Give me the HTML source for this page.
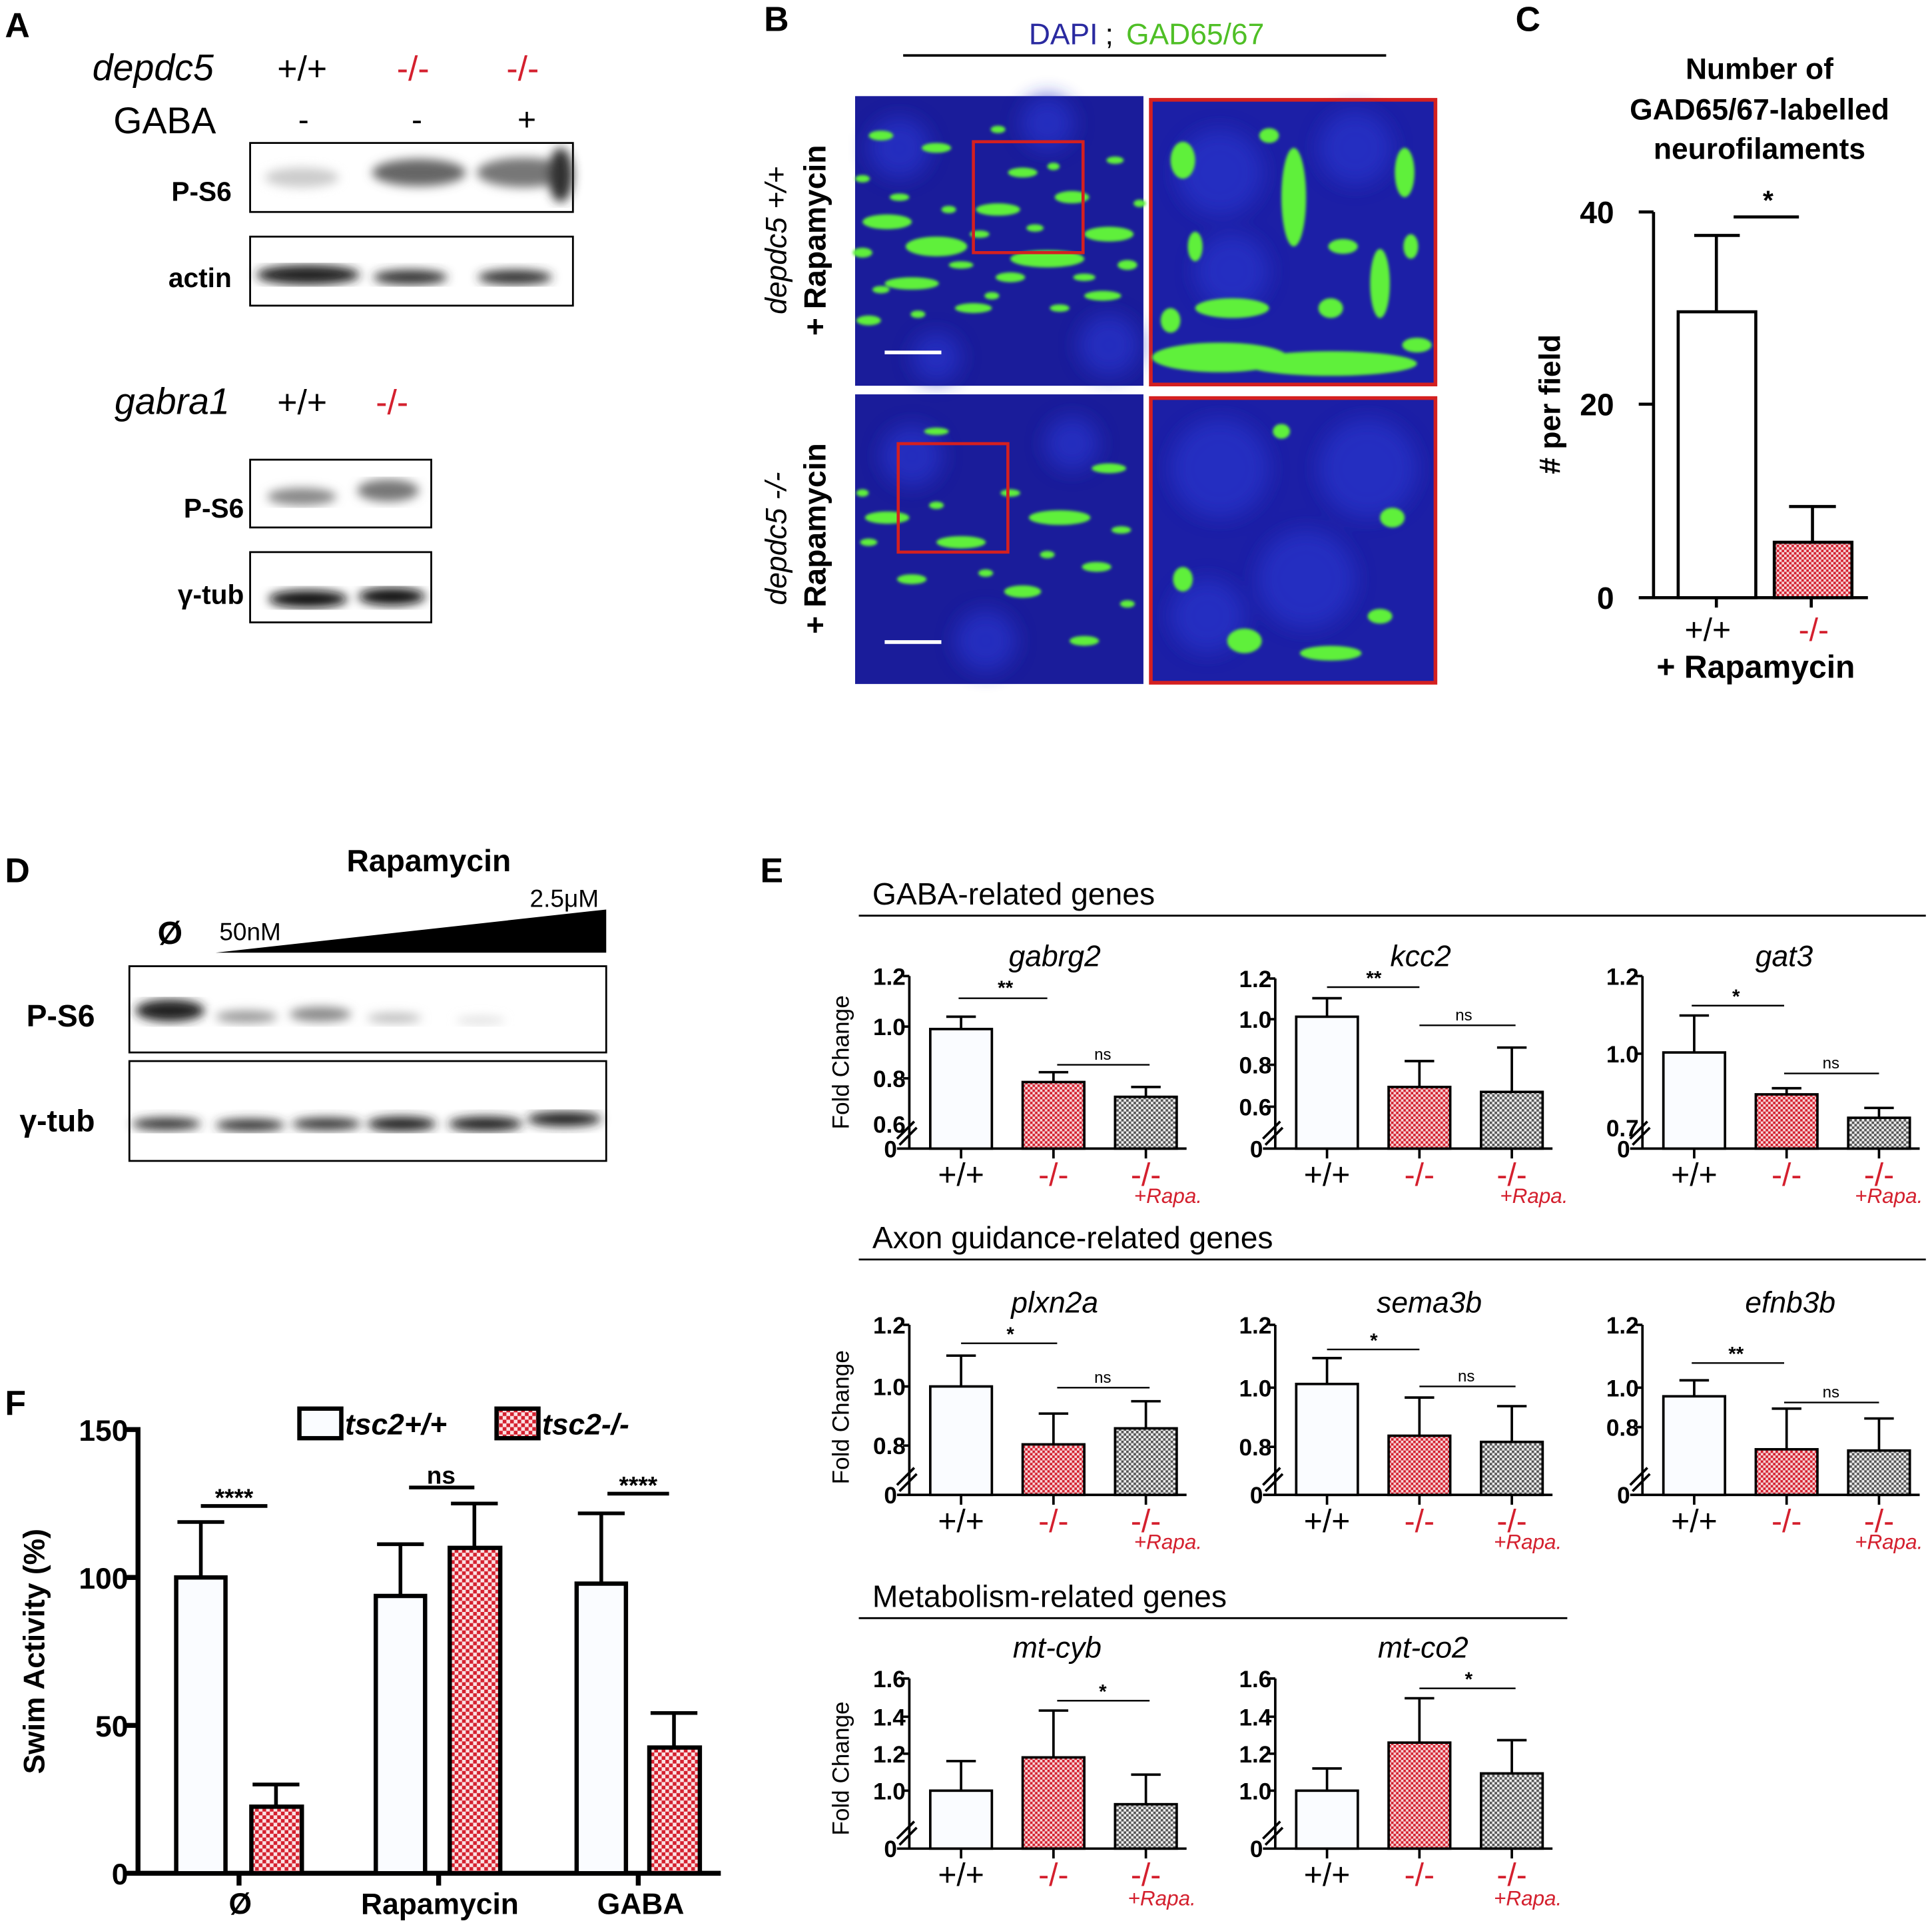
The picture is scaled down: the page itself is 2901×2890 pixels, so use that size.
<!DOCTYPE html>
<html><head><meta charset="utf-8"><style>
html,body{margin:0;padding:0;background:#fff}
svg{display:block}
text{font-family:"Liberation Sans",sans-serif}
</style></head><body>
<svg width="2901" height="2890" viewBox="0 0 1568 1562" preserveAspectRatio="none" xmlns="http://www.w3.org/2000/svg">
<defs>
<pattern id="red" width="4" height="4" patternUnits="userSpaceOnUse"><rect width="4" height="4" fill="#f6d5d8"/><rect width="2" height="2" fill="#d4202e"/><rect x="2" y="2" width="2" height="2" fill="#d4202e"/></pattern>
<pattern id="gray" width="4" height="4" patternUnits="userSpaceOnUse"><rect width="4" height="4" fill="#eee"/><rect width="2" height="2" fill="#555"/><rect x="2" y="2" width="2" height="2" fill="#555"/></pattern>
<pattern id="redF" width="6" height="6" patternUnits="userSpaceOnUse"><rect width="6" height="6" fill="#fbe2e4"/><rect width="3" height="3" fill="#d4202e"/><rect x="3" y="3" width="3" height="3" fill="#d4202e"/></pattern>
<filter id="bl"><feGaussianBlur stdDeviation="4"/></filter>
<filter id="bl2"><feGaussianBlur stdDeviation="1.2"/></filter>
<filter id="bl3"><feGaussianBlur stdDeviation="8"/></filter>
</defs>
<rect width="1568" height="1562" fill="#fff"/>

<!-- Panel A -->
<text x="4" y="30" font-size="28" font-weight="bold">A</text>
<text x="75" y="65" font-size="30" font-style="italic">depdc5</text>
<text x="225" y="65" font-size="28">+/+</text>
<text x="322" y="65" font-size="28" fill="#d4202e">-/-</text>
<text x="411" y="65" font-size="28" fill="#d4202e">-/-</text>
<text x="92" y="108" font-size="30">GABA</text>
<text x="242" y="106" font-size="26">-</text>
<text x="334" y="106" font-size="26">-</text>
<text x="420" y="106" font-size="26">+</text>
<rect x="203" y="116" width="262" height="56" fill="#fff" stroke="#000" stroke-width="1.5"/>
<g filter="url(#bl)"><ellipse cx="245" cy="144" rx="30" ry="8" fill="#ccc"/><ellipse cx="340" cy="140" rx="38" ry="11" fill="#666"/><ellipse cx="425" cy="140" rx="38" ry="12" fill="#777"/><ellipse cx="455" cy="142" rx="10" ry="22" fill="#333"/></g>
<text x="188" y="163" font-size="22" font-weight="bold" text-anchor="end">P-S6</text>
<rect x="203" y="192" width="262" height="56" fill="#fff" stroke="#000" stroke-width="1.5"/>
<g filter="url(#bl)"><ellipse cx="250" cy="223" rx="42" ry="8" fill="#222"/><ellipse cx="333" cy="225" rx="30" ry="6" fill="#333"/><ellipse cx="418" cy="225" rx="30" ry="6" fill="#333"/></g>
<text x="188" y="233" font-size="22" font-weight="bold" text-anchor="end">actin</text>
<text x="93" y="336" font-size="30" font-style="italic">gabra1</text>
<text x="225" y="336" font-size="28">+/+</text>
<text x="305" y="336" font-size="28" fill="#d4202e">-/-</text>
<rect x="203" y="373" width="147" height="55" fill="#fff" stroke="#000" stroke-width="1.5"/>
<g filter="url(#bl)"><ellipse cx="245" cy="403" rx="28" ry="7" fill="#888"/><ellipse cx="315" cy="398" rx="25" ry="9" fill="#777"/></g>
<text x="198" y="420" font-size="22" font-weight="bold" text-anchor="end">P-S6</text>
<rect x="203" y="448" width="147" height="57" fill="#fff" stroke="#000" stroke-width="1.5"/>
<g filter="url(#bl)"><ellipse cx="250" cy="486" rx="32" ry="7" fill="#111"/><ellipse cx="318" cy="484" rx="27" ry="7" fill="#111"/></g>
<text x="198" y="490" font-size="22" font-weight="bold" text-anchor="end">γ-tub</text>

<!-- Panel B -->
<text x="620" y="25" font-size="28" font-weight="bold">B</text>
<text x="835" y="36" font-size="24" fill="#2a2aa0">DAPI</text>
<text x="897" y="36" font-size="24">;</text>
<text x="914" y="36" font-size="24" fill="#4fbf26">GAD65/67</text>
<line x1="733" y1="45" x2="1125" y2="45" stroke="#000" stroke-width="2"/>
<rect x="694" y="78" width="234" height="235" fill="#1a1c9a"/>
<rect x="694" y="320" width="234" height="235" fill="#1a1c9a"/>
<rect x="934" y="81" width="231" height="231" fill="#1c1fa6" stroke="#d42020" stroke-width="3"/>
<rect x="934" y="323" width="231" height="231" fill="#1c1fa6" stroke="#d42020" stroke-width="3"/>
<g fill="#2830c8" filter="url(#bl3)" opacity="0.8">
<circle cx="730" cy="120" r="25"/><circle cx="850" cy="100" r="22"/><circle cx="900" cy="280" r="25"/><circle cx="760" cy="290" r="20"/>
<circle cx="740" cy="370" r="25"/><circle cx="870" cy="360" r="22"/><circle cx="800" cy="520" r="25"/>
<circle cx="990" cy="140" r="35"/><circle cx="1100" cy="120" r="30"/><circle cx="1000" cy="220" r="30"/>
<circle cx="990" cy="380" r="40"/><circle cx="1110" cy="380" r="40"/><circle cx="1060" cy="470" r="40"/><circle cx="980" cy="500" r="30"/>
</g>
<g fill="#5ef03a" filter="url(#bl2)">
<ellipse cx="720" cy="180" rx="20" ry="6"/><ellipse cx="760" cy="200" rx="25" ry="8"/><ellipse cx="810" cy="170" rx="18" ry="5"/><ellipse cx="850" cy="210" rx="30" ry="7"/><ellipse cx="900" cy="190" rx="20" ry="6"/><ellipse cx="740" cy="230" rx="22" ry="5"/><ellipse cx="830" cy="140" rx="12" ry="4"/><ellipse cx="790" cy="250" rx="15" ry="4"/><ellipse cx="870" cy="160" rx="14" ry="5"/><ellipse cx="715" cy="110" rx="10" ry="4"/><ellipse cx="760" cy="120" rx="12" ry="4"/><ellipse cx="895" cy="240" rx="15" ry="4"/><ellipse cx="705" cy="260" rx="10" ry="4"/>
<ellipse cx="700" cy="205" rx="8" ry="4"/><ellipse cx="780" cy="215" rx="10" ry="3"/><ellipse cx="820" cy="225" rx="12" ry="4"/><ellipse cx="880" cy="225" rx="9" ry="3"/><ellipse cx="915" cy="215" rx="8" ry="4"/><ellipse cx="730" cy="160" rx="8" ry="3"/><ellipse cx="795" cy="190" rx="8" ry="3"/><ellipse cx="840" cy="185" rx="7" ry="3"/><ellipse cx="770" cy="170" rx="6" ry="3"/><ellipse cx="905" cy="130" rx="7" ry="3"/><ellipse cx="700" cy="145" rx="6" ry="3"/><ellipse cx="810" cy="105" rx="6" ry="3"/><ellipse cx="860" cy="250" rx="8" ry="3"/><ellipse cx="745" cy="255" rx="6" ry="3"/><ellipse cx="925" cy="165" rx="5" ry="3"/><ellipse cx="715" cy="235" rx="7" ry="3"/><ellipse cx="805" cy="240" rx="6" ry="3"/><ellipse cx="855" cy="135" rx="5" ry="3"/>
<ellipse cx="720" cy="420" rx="18" ry="5"/><ellipse cx="780" cy="440" rx="20" ry="5"/><ellipse cx="860" cy="420" rx="25" ry="6"/><ellipse cx="900" cy="380" rx="14" ry="4"/><ellipse cx="740" cy="470" rx="12" ry="4"/><ellipse cx="830" cy="480" rx="15" ry="5"/><ellipse cx="890" cy="460" rx="12" ry="4"/><ellipse cx="760" cy="350" rx="10" ry="3"/><ellipse cx="880" cy="520" rx="12" ry="4"/>
<ellipse cx="705" cy="440" rx="7" ry="3"/><ellipse cx="820" cy="400" rx="8" ry="3"/><ellipse cx="910" cy="430" rx="8" ry="3"/><ellipse cx="850" cy="450" rx="6" ry="3"/><ellipse cx="800" cy="465" rx="6" ry="3"/><ellipse cx="915" cy="490" rx="6" ry="3"/><ellipse cx="760" cy="410" rx="6" ry="3"/><ellipse cx="700" cy="400" rx="5" ry="3"/>
<ellipse cx="990" cy="290" rx="55" ry="12"/><ellipse cx="1080" cy="295" rx="70" ry="10"/><ellipse cx="1050" cy="160" rx="10" ry="40"/><ellipse cx="1120" cy="230" rx="8" ry="28"/><ellipse cx="960" cy="130" rx="10" ry="15"/><ellipse cx="1000" cy="250" rx="30" ry="8"/><ellipse cx="1140" cy="140" rx="8" ry="20"/><ellipse cx="1090" cy="200" rx="12" ry="6"/><ellipse cx="970" cy="200" rx="6" ry="12"/>
<ellipse cx="1150" cy="280" rx="12" ry="6"/><ellipse cx="1030" cy="110" rx="8" ry="6"/><ellipse cx="1080" cy="250" rx="10" ry="8"/><ellipse cx="950" cy="260" rx="8" ry="10"/><ellipse cx="1145" cy="200" rx="6" ry="10"/>
<ellipse cx="1010" cy="520" rx="14" ry="10"/><ellipse cx="1080" cy="530" rx="25" ry="6"/><ellipse cx="960" cy="470" rx="8" ry="10"/><ellipse cx="1130" cy="420" rx="10" ry="8"/><ellipse cx="1040" cy="350" rx="7" ry="6"/><ellipse cx="1120" cy="500" rx="10" ry="6"/>
</g>
<rect x="790" y="115" width="89" height="90" fill="none" stroke="#d42020" stroke-width="2.5"/>
<rect x="729" y="360" width="89" height="88" fill="none" stroke="#d42020" stroke-width="2.5"/>
<line x1="718" y1="286" x2="764" y2="286" stroke="#fff" stroke-width="3"/>
<line x1="718" y1="521" x2="764" y2="521" stroke="#fff" stroke-width="3"/>
<text transform="translate(638,195) rotate(-90)" font-size="24" font-style="italic" text-anchor="middle">depdc5 +/+</text>
<text transform="translate(670,195) rotate(-90)" font-size="25" font-weight="bold" text-anchor="middle">+ Rapamycin</text>
<text transform="translate(638,437) rotate(-90)" font-size="24" font-style="italic" text-anchor="middle">depdc5 -/-</text>
<text transform="translate(670,437) rotate(-90)" font-size="25" font-weight="bold" text-anchor="middle">+ Rapamycin</text>

<!-- Panel C -->
<text x="1230" y="25" font-size="28" font-weight="bold">C</text>
<g font-size="24" font-weight="bold" text-anchor="middle"><text x="1428" y="64">Number of</text><text x="1428" y="97">GAD65/67-labelled</text><text x="1428" y="129">neurofilaments</text></g>
<text transform="translate(1266,328) rotate(-90)" font-size="24" font-weight="bold" text-anchor="middle"># per field</text>
<g stroke="#000" stroke-width="2.5" fill="none">
<line x1="1342" y1="172" x2="1342" y2="486"/><line x1="1330" y1="172" x2="1342" y2="172"/><line x1="1330" y1="328" x2="1342" y2="328"/><line x1="1330" y1="485" x2="1342" y2="485"/>
<line x1="1342" y1="485" x2="1516" y2="485"/><line x1="1393" y1="485" x2="1393" y2="493"/><line x1="1470" y1="485" x2="1470" y2="493"/>
<line x1="1393" y1="253" x2="1393" y2="191"/><line x1="1375" y1="191" x2="1412" y2="191"/>
<line x1="1471" y1="440" x2="1471" y2="411"/><line x1="1452" y1="411" x2="1490" y2="411"/>
<line x1="1407" y1="176" x2="1460" y2="176"/>
</g>
<rect x="1362" y="253" width="63" height="232" fill="#fff" stroke="#000" stroke-width="2.5"/>
<rect x="1440" y="440" width="63" height="45" fill="url(#red)" stroke="#000" stroke-width="2.5"/>
<g font-size="25" font-weight="bold" text-anchor="end"><text x="1310" y="181">40</text><text x="1310" y="337">20</text><text x="1310" y="494">0</text></g>
<text x="1435" y="170" font-size="22" font-weight="bold" text-anchor="middle">*</text>
<text x="1386" y="520" font-size="26" text-anchor="middle">+/+</text>
<text x="1472" y="520" font-size="26" fill="#d4202e" text-anchor="middle">-/-</text>
<text x="1425" y="550" font-size="26" font-weight="bold" text-anchor="middle">+ Rapamycin</text>

<!-- Panel D -->
<text x="4" y="716" font-size="28" font-weight="bold">D</text>
<text x="348" y="707" font-size="25" font-weight="bold" text-anchor="middle">Rapamycin</text>
<text x="138" y="766" font-size="26" font-weight="bold" text-anchor="middle">Ø</text>
<text x="178" y="763" font-size="20">50nM</text>
<text x="430" y="736" font-size="20">2.5μM</text>
<polygon points="175,773 492,773 492,738" fill="#000"/>
<rect x="105" y="784" width="387" height="70" fill="#fff" stroke="#000" stroke-width="1.5"/>
<g filter="url(#bl)"><ellipse cx="138" cy="820" rx="28" ry="9" fill="#222"/><ellipse cx="200" cy="825" rx="25" ry="5" fill="#999"/><ellipse cx="260" cy="823" rx="25" ry="6" fill="#888"/><ellipse cx="320" cy="826" rx="22" ry="4" fill="#bbb"/><ellipse cx="390" cy="828" rx="20" ry="3" fill="#ddd"/></g>
<text x="77" y="833" font-size="25" font-weight="bold" text-anchor="end">P-S6</text>
<rect x="105" y="861" width="387" height="81" fill="#fff" stroke="#000" stroke-width="1.5"/>
<g filter="url(#bl)"><ellipse cx="135" cy="912" rx="28" ry="5" fill="#333"/><ellipse cx="203" cy="913" rx="28" ry="5" fill="#333"/><ellipse cx="265" cy="912" rx="28" ry="5" fill="#333"/><ellipse cx="326" cy="912" rx="28" ry="6" fill="#222"/><ellipse cx="394" cy="912" rx="30" ry="6" fill="#222"/><ellipse cx="458" cy="908" rx="30" ry="6" fill="#222"/></g>
<text x="77" y="918" font-size="25" font-weight="bold" text-anchor="end">γ-tub</text>

<!-- Panel E -->
<text x="617" y="716" font-size="28" font-weight="bold">E</text>
<text x="708" y="734" font-size="25">GABA-related genes</text>
<line x1="697" y1="743" x2="1563" y2="743" stroke="#000" stroke-width="1.5"/>
<text x="708" y="1013" font-size="25">Axon guidance-related genes</text>
<line x1="697" y1="1022" x2="1563" y2="1022" stroke="#000" stroke-width="1.5"/>
<text x="708" y="1304" font-size="25">Metabolism-related genes</text>
<line x1="697" y1="1313" x2="1272" y2="1313" stroke="#000" stroke-width="1.5"/>
<text transform="translate(689,862) rotate(-90)" font-size="19" text-anchor="middle">Fold Change</text>
<text transform="translate(689,1150) rotate(-90)" font-size="19" text-anchor="middle">Fold Change</text>
<text transform="translate(689,1435) rotate(-90)" font-size="19" text-anchor="middle">Fold Change</text>

<!-- chart gabrg2 -->
<g transform="translate(738,932)">
<text x="118" y="-148" font-size="24" font-style="italic" text-anchor="middle">gabrg2</text>
<g font-size="19" font-weight="bold" text-anchor="end"><text x="-3" y="-133">1.2</text><text x="-3" y="-92">1.0</text><text x="-3" y="-50">0.8</text><text x="-3" y="-13">0.6</text><text x="-10" y="7">0</text></g>
<g stroke="#000" stroke-width="2" fill="none"><line x1="0" y1="-140" x2="0" y2="0"/><line x1="-5" y1="-140" x2="0" y2="-140"/><line x1="-5" y1="-99" x2="0" y2="-99"/><line x1="-5" y1="-57" x2="0" y2="-57"/>
<line x1="-10" y1="0" x2="225" y2="0"/><line x1="42" y1="0" x2="42" y2="8"/><line x1="117" y1="0" x2="117" y2="8"/><line x1="192" y1="0" x2="192" y2="8"/>
<line x1="42" y1="-97" x2="42" y2="-107"/><line x1="30" y1="-107" x2="54" y2="-107"/><line x1="117" y1="-54" x2="117" y2="-62"/><line x1="105" y1="-62" x2="129" y2="-62"/><line x1="192" y1="-42" x2="192" y2="-50"/><line x1="180" y1="-50" x2="204" y2="-50"/>
<line x1="-10" y1="-8" x2="4" y2="-22"/><line x1="-8" y1="-3" x2="6" y2="-17"/>
<line x1="40" y1="-122" x2="112" y2="-122" stroke-width="1.3"/><line x1="120" y1="-68" x2="195" y2="-68" stroke-width="1.3"/></g>
<rect x="17" y="-97" width="50" height="97" fill="#fafcff" stroke="#000" stroke-width="2"/><rect x="92" y="-54" width="50" height="54" fill="url(#red)" stroke="#000" stroke-width="2"/><rect x="167" y="-42" width="50" height="42" fill="url(#gray)" stroke="#000" stroke-width="2"/>
<text x="78" y="-125" font-size="16" font-weight="bold" text-anchor="middle">**</text><text x="157" y="-72" font-size="13" text-anchor="middle">ns</text>
<text x="42" y="30" font-size="26" text-anchor="middle">+/+</text><text x="117" y="30" font-size="26" fill="#d4202e" text-anchor="middle">-/-</text><text x="192" y="30" font-size="26" fill="#d4202e" text-anchor="middle">-/-</text><text x="210" y="44" font-size="17" font-style="italic" fill="#d4202e" text-anchor="middle">+Rapa.</text>
</g>

<!-- chart kcc2 -->
<g transform="translate(1035,932)">
<text x="118" y="-148" font-size="24" font-style="italic" text-anchor="middle">kcc2</text>
<g font-size="19" font-weight="bold" text-anchor="end"><text x="-3" y="-131">1.2</text><text x="-3" y="-98">1.0</text><text x="-3" y="-61">0.8</text><text x="-3" y="-27">0.6</text><text x="-10" y="7">0</text></g>
<g stroke="#000" stroke-width="2" fill="none"><line x1="0" y1="-138" x2="0" y2="0"/><line x1="-5" y1="-138" x2="0" y2="-138"/><line x1="-5" y1="-105" x2="0" y2="-105"/><line x1="-5" y1="-68" x2="0" y2="-68"/><line x1="-5" y1="-34" x2="0" y2="-34"/>
<line x1="-10" y1="0" x2="225" y2="0"/><line x1="42" y1="0" x2="42" y2="8"/><line x1="117" y1="0" x2="117" y2="8"/><line x1="192" y1="0" x2="192" y2="8"/>
<line x1="42" y1="-107" x2="42" y2="-122"/><line x1="30" y1="-122" x2="54" y2="-122"/><line x1="117" y1="-50" x2="117" y2="-71"/><line x1="105" y1="-71" x2="129" y2="-71"/><line x1="192" y1="-46" x2="192" y2="-82"/><line x1="180" y1="-82" x2="204" y2="-82"/>
<line x1="-10" y1="-8" x2="4" y2="-22"/><line x1="-8" y1="-3" x2="6" y2="-17"/>
<line x1="42" y1="-131" x2="117" y2="-131" stroke-width="1.3"/><line x1="117" y1="-100" x2="195" y2="-100" stroke-width="1.3"/></g>
<rect x="17" y="-107" width="50" height="107" fill="#fafcff" stroke="#000" stroke-width="2"/><rect x="92" y="-50" width="50" height="50" fill="url(#red)" stroke="#000" stroke-width="2"/><rect x="167" y="-46" width="50" height="46" fill="url(#gray)" stroke="#000" stroke-width="2"/>
<text x="80" y="-133" font-size="16" font-weight="bold" text-anchor="middle">**</text><text x="153" y="-104" font-size="13" text-anchor="middle">ns</text>
<text x="42" y="30" font-size="26" text-anchor="middle">+/+</text><text x="117" y="30" font-size="26" fill="#d4202e" text-anchor="middle">-/-</text><text x="192" y="30" font-size="26" fill="#d4202e" text-anchor="middle">-/-</text><text x="210" y="44" font-size="17" font-style="italic" fill="#d4202e" text-anchor="middle">+Rapa.</text>
</g>

<!-- chart gat3 -->
<g transform="translate(1333,932)">
<text x="115" y="-148" font-size="24" font-style="italic" text-anchor="middle">gat3</text>
<g font-size="19" font-weight="bold" text-anchor="end"><text x="-3" y="-133">1.2</text><text x="-3" y="-70">1.0</text><text x="-3" y="-10">0.7</text><text x="-10" y="7">0</text></g>
<g stroke="#000" stroke-width="2" fill="none"><line x1="0" y1="-140" x2="0" y2="0"/><line x1="-5" y1="-140" x2="0" y2="-140"/><line x1="-5" y1="-77" x2="0" y2="-77"/>
<line x1="-10" y1="0" x2="225" y2="0"/><line x1="42" y1="0" x2="42" y2="8"/><line x1="117" y1="0" x2="117" y2="8"/><line x1="192" y1="0" x2="192" y2="8"/>
<line x1="42" y1="-78" x2="42" y2="-108"/><line x1="30" y1="-108" x2="54" y2="-108"/><line x1="117" y1="-44" x2="117" y2="-49"/><line x1="105" y1="-49" x2="129" y2="-49"/><line x1="192" y1="-25" x2="192" y2="-33"/><line x1="180" y1="-33" x2="204" y2="-33"/>
<line x1="-10" y1="-8" x2="4" y2="-22"/><line x1="-8" y1="-3" x2="6" y2="-17"/>
<line x1="40" y1="-116" x2="115" y2="-116" stroke-width="1.3"/><line x1="115" y1="-61" x2="192" y2="-61" stroke-width="1.3"/></g>
<rect x="17" y="-78" width="50" height="78" fill="#fafcff" stroke="#000" stroke-width="2"/><rect x="92" y="-44" width="50" height="44" fill="url(#red)" stroke="#000" stroke-width="2"/><rect x="167" y="-25" width="50" height="25" fill="url(#gray)" stroke="#000" stroke-width="2"/>
<text x="76" y="-118" font-size="16" font-weight="bold" text-anchor="middle">*</text><text x="153" y="-65" font-size="13" text-anchor="middle">ns</text>
<text x="42" y="30" font-size="26" text-anchor="middle">+/+</text><text x="117" y="30" font-size="26" fill="#d4202e" text-anchor="middle">-/-</text><text x="192" y="30" font-size="26" fill="#d4202e" text-anchor="middle">-/-</text><text x="200" y="44" font-size="17" font-style="italic" fill="#d4202e" text-anchor="middle">+Rapa.</text>
</g>

<!-- chart plxn2a -->
<g transform="translate(738,1213)">
<text x="118" y="-148" font-size="24" font-style="italic" text-anchor="middle">plxn2a</text>
<g font-size="19" font-weight="bold" text-anchor="end"><text x="-3" y="-131">1.2</text><text x="-3" y="-81">1.0</text><text x="-3" y="-33">0.8</text><text x="-10" y="7">0</text></g>
<g stroke="#000" stroke-width="2" fill="none"><line x1="0" y1="-138" x2="0" y2="0"/><line x1="-5" y1="-138" x2="0" y2="-138"/><line x1="-5" y1="-88" x2="0" y2="-88"/><line x1="-5" y1="-40" x2="0" y2="-40"/>
<line x1="-10" y1="0" x2="225" y2="0"/><line x1="42" y1="0" x2="42" y2="8"/><line x1="117" y1="0" x2="117" y2="8"/><line x1="192" y1="0" x2="192" y2="8"/>
<line x1="42" y1="-88" x2="42" y2="-113"/><line x1="30" y1="-113" x2="54" y2="-113"/><line x1="117" y1="-41" x2="117" y2="-66"/><line x1="105" y1="-66" x2="129" y2="-66"/><line x1="192" y1="-54" x2="192" y2="-76"/><line x1="180" y1="-76" x2="204" y2="-76"/>
<line x1="-10" y1="-8" x2="4" y2="-22"/><line x1="-8" y1="-3" x2="6" y2="-17"/>
<line x1="42" y1="-123" x2="120" y2="-123" stroke-width="1.3"/><line x1="120" y1="-87" x2="195" y2="-87" stroke-width="1.3"/></g>
<rect x="17" y="-88" width="50" height="88" fill="#fafcff" stroke="#000" stroke-width="2"/><rect x="92" y="-41" width="50" height="41" fill="url(#red)" stroke="#000" stroke-width="2"/><rect x="167" y="-54" width="50" height="54" fill="url(#gray)" stroke="#000" stroke-width="2"/>
<text x="82" y="-125" font-size="16" font-weight="bold" text-anchor="middle">*</text><text x="157" y="-91" font-size="13" text-anchor="middle">ns</text>
<text x="42" y="30" font-size="26" text-anchor="middle">+/+</text><text x="117" y="30" font-size="26" fill="#d4202e" text-anchor="middle">-/-</text><text x="192" y="30" font-size="26" fill="#d4202e" text-anchor="middle">-/-</text><text x="210" y="44" font-size="17" font-style="italic" fill="#d4202e" text-anchor="middle">+Rapa.</text>
</g>

<!-- chart sema3b -->
<g transform="translate(1035,1213)">
<text x="125" y="-148" font-size="24" font-style="italic" text-anchor="middle">sema3b</text>
<g font-size="19" font-weight="bold" text-anchor="end"><text x="-3" y="-131">1.2</text><text x="-3" y="-80">1.0</text><text x="-3" y="-32">0.8</text><text x="-10" y="7">0</text></g>
<g stroke="#000" stroke-width="2" fill="none"><line x1="0" y1="-138" x2="0" y2="0"/><line x1="-5" y1="-138" x2="0" y2="-138"/><line x1="-5" y1="-87" x2="0" y2="-87"/><line x1="-5" y1="-39" x2="0" y2="-39"/>
<line x1="-10" y1="0" x2="225" y2="0"/><line x1="42" y1="0" x2="42" y2="8"/><line x1="117" y1="0" x2="117" y2="8"/><line x1="192" y1="0" x2="192" y2="8"/>
<line x1="42" y1="-90" x2="42" y2="-111"/><line x1="30" y1="-111" x2="54" y2="-111"/><line x1="117" y1="-48" x2="117" y2="-79"/><line x1="105" y1="-79" x2="129" y2="-79"/><line x1="192" y1="-43" x2="192" y2="-72"/><line x1="180" y1="-72" x2="204" y2="-72"/>
<line x1="-10" y1="-8" x2="4" y2="-22"/><line x1="-8" y1="-3" x2="6" y2="-17"/>
<line x1="42" y1="-118" x2="117" y2="-118" stroke-width="1.3"/><line x1="117" y1="-88" x2="195" y2="-88" stroke-width="1.3"/></g>
<rect x="17" y="-90" width="50" height="90" fill="#fafcff" stroke="#000" stroke-width="2"/><rect x="92" y="-48" width="50" height="48" fill="url(#red)" stroke="#000" stroke-width="2"/><rect x="167" y="-43" width="50" height="43" fill="url(#gray)" stroke="#000" stroke-width="2"/>
<text x="80" y="-120" font-size="16" font-weight="bold" text-anchor="middle">*</text><text x="155" y="-92" font-size="13" text-anchor="middle">ns</text>
<text x="42" y="30" font-size="26" text-anchor="middle">+/+</text><text x="117" y="30" font-size="26" fill="#d4202e" text-anchor="middle">-/-</text><text x="192" y="30" font-size="26" fill="#d4202e" text-anchor="middle">-/-</text><text x="205" y="44" font-size="17" font-style="italic" fill="#d4202e" text-anchor="middle">+Rapa.</text>
</g>

<!-- chart efnb3b -->
<g transform="translate(1333,1213)">
<text x="120" y="-148" font-size="24" font-style="italic" text-anchor="middle">efnb3b</text>
<g font-size="19" font-weight="bold" text-anchor="end"><text x="-3" y="-131">1.2</text><text x="-3" y="-80">1.0</text><text x="-3" y="-48">0.8</text><text x="-10" y="7">0</text></g>
<g stroke="#000" stroke-width="2" fill="none"><line x1="0" y1="-138" x2="0" y2="0"/><line x1="-5" y1="-138" x2="0" y2="-138"/><line x1="-5" y1="-87" x2="0" y2="-87"/><line x1="-5" y1="-55" x2="0" y2="-55"/>
<line x1="-10" y1="0" x2="225" y2="0"/><line x1="42" y1="0" x2="42" y2="8"/><line x1="117" y1="0" x2="117" y2="8"/><line x1="192" y1="0" x2="192" y2="8"/>
<line x1="42" y1="-80" x2="42" y2="-93"/><line x1="30" y1="-93" x2="54" y2="-93"/><line x1="117" y1="-37" x2="117" y2="-70"/><line x1="105" y1="-70" x2="129" y2="-70"/><line x1="192" y1="-36" x2="192" y2="-62"/><line x1="180" y1="-62" x2="204" y2="-62"/>
<line x1="-10" y1="-8" x2="4" y2="-22"/><line x1="-8" y1="-3" x2="6" y2="-17"/>
<line x1="40" y1="-107" x2="115" y2="-107" stroke-width="1.3"/><line x1="115" y1="-75" x2="192" y2="-75" stroke-width="1.3"/></g>
<rect x="17" y="-80" width="50" height="80" fill="#fafcff" stroke="#000" stroke-width="2"/><rect x="92" y="-37" width="50" height="37" fill="url(#red)" stroke="#000" stroke-width="2"/><rect x="167" y="-36" width="50" height="36" fill="url(#gray)" stroke="#000" stroke-width="2"/>
<text x="76" y="-109" font-size="16" font-weight="bold" text-anchor="middle">**</text><text x="153" y="-79" font-size="13" text-anchor="middle">ns</text>
<text x="42" y="30" font-size="26" text-anchor="middle">+/+</text><text x="117" y="30" font-size="26" fill="#d4202e" text-anchor="middle">-/-</text><text x="192" y="30" font-size="26" fill="#d4202e" text-anchor="middle">-/-</text><text x="200" y="44" font-size="17" font-style="italic" fill="#d4202e" text-anchor="middle">+Rapa.</text>
</g>

<!-- chart mt-cyb -->
<g transform="translate(738,1500)">
<text x="120" y="-155" font-size="24" font-style="italic" text-anchor="middle">mt-cyb</text>
<g font-size="19" font-weight="bold" text-anchor="end"><text x="-3" y="-131">1.6</text><text x="-3" y="-100">1.4</text><text x="-3" y="-70">1.2</text><text x="-3" y="-40">1.0</text><text x="-10" y="7">0</text></g>
<g stroke="#000" stroke-width="2" fill="none"><line x1="0" y1="-138" x2="0" y2="0"/><line x1="-5" y1="-138" x2="0" y2="-138"/><line x1="-5" y1="-107" x2="0" y2="-107"/><line x1="-5" y1="-77" x2="0" y2="-77"/><line x1="-5" y1="-47" x2="0" y2="-47"/>
<line x1="-10" y1="0" x2="225" y2="0"/><line x1="42" y1="0" x2="42" y2="8"/><line x1="117" y1="0" x2="117" y2="8"/><line x1="192" y1="0" x2="192" y2="8"/>
<line x1="42" y1="-47" x2="42" y2="-71"/><line x1="30" y1="-71" x2="54" y2="-71"/><line x1="117" y1="-74" x2="117" y2="-112"/><line x1="105" y1="-112" x2="129" y2="-112"/><line x1="192" y1="-36" x2="192" y2="-60"/><line x1="180" y1="-60" x2="204" y2="-60"/>
<line x1="-10" y1="-8" x2="4" y2="-22"/><line x1="-8" y1="-3" x2="6" y2="-17"/>
<line x1="120" y1="-120" x2="195" y2="-120" stroke-width="1.3"/></g>
<rect x="17" y="-47" width="50" height="47" fill="#fafcff" stroke="#000" stroke-width="2"/><rect x="92" y="-74" width="50" height="74" fill="url(#red)" stroke="#000" stroke-width="2"/><rect x="167" y="-36" width="50" height="36" fill="url(#gray)" stroke="#000" stroke-width="2"/>
<text x="157" y="-122" font-size="16" font-weight="bold" text-anchor="middle">*</text>
<text x="42" y="30" font-size="26" text-anchor="middle">+/+</text><text x="117" y="30" font-size="26" fill="#d4202e" text-anchor="middle">-/-</text><text x="192" y="30" font-size="26" fill="#d4202e" text-anchor="middle">-/-</text><text x="205" y="46" font-size="17" font-style="italic" fill="#d4202e" text-anchor="middle">+Rapa.</text>
</g>

<!-- chart mt-co2 -->
<g transform="translate(1035,1500)">
<text x="120" y="-155" font-size="24" font-style="italic" text-anchor="middle">mt-co2</text>
<g font-size="19" font-weight="bold" text-anchor="end"><text x="-3" y="-131">1.6</text><text x="-3" y="-100">1.4</text><text x="-3" y="-70">1.2</text><text x="-3" y="-40">1.0</text><text x="-10" y="7">0</text></g>
<g stroke="#000" stroke-width="2" fill="none"><line x1="0" y1="-138" x2="0" y2="0"/><line x1="-5" y1="-138" x2="0" y2="-138"/><line x1="-5" y1="-107" x2="0" y2="-107"/><line x1="-5" y1="-77" x2="0" y2="-77"/><line x1="-5" y1="-47" x2="0" y2="-47"/>
<line x1="-10" y1="0" x2="225" y2="0"/><line x1="42" y1="0" x2="42" y2="8"/><line x1="117" y1="0" x2="117" y2="8"/><line x1="192" y1="0" x2="192" y2="8"/>
<line x1="42" y1="-47" x2="42" y2="-65"/><line x1="30" y1="-65" x2="54" y2="-65"/><line x1="117" y1="-86" x2="117" y2="-122"/><line x1="105" y1="-122" x2="129" y2="-122"/><line x1="192" y1="-61" x2="192" y2="-88"/><line x1="180" y1="-88" x2="204" y2="-88"/>
<line x1="-10" y1="-8" x2="4" y2="-22"/><line x1="-8" y1="-3" x2="6" y2="-17"/>
<line x1="117" y1="-130" x2="195" y2="-130" stroke-width="1.3"/></g>
<rect x="17" y="-47" width="50" height="47" fill="#fafcff" stroke="#000" stroke-width="2"/><rect x="92" y="-86" width="50" height="86" fill="url(#red)" stroke="#000" stroke-width="2"/><rect x="167" y="-61" width="50" height="61" fill="url(#gray)" stroke="#000" stroke-width="2"/>
<text x="157" y="-132" font-size="16" font-weight="bold" text-anchor="middle">*</text>
<text x="42" y="30" font-size="26" text-anchor="middle">+/+</text><text x="117" y="30" font-size="26" fill="#d4202e" text-anchor="middle">-/-</text><text x="192" y="30" font-size="26" fill="#d4202e" text-anchor="middle">-/-</text><text x="205" y="46" font-size="17" font-style="italic" fill="#d4202e" text-anchor="middle">+Rapa.</text>
</g>

<!-- Panel F -->
<text x="4" y="1148" font-size="28" font-weight="bold">F</text>
<text transform="translate(36,1340) rotate(-90)" font-size="24" font-weight="bold" text-anchor="middle">Swim Activity (%)</text>
<g font-size="24" font-weight="bold" text-anchor="end"><text x="104" y="1169">150</text><text x="104" y="1289">100</text><text x="104" y="1409">50</text><text x="104" y="1529">0</text></g>
<g stroke="#000" stroke-width="4" fill="none">
<line x1="112" y1="1158" x2="112" y2="1522"/><line x1="102" y1="1160" x2="112" y2="1160"/><line x1="102" y1="1280" x2="112" y2="1280"/><line x1="102" y1="1400" x2="112" y2="1400"/><line x1="102" y1="1520" x2="112" y2="1520"/>
<line x1="110" y1="1520" x2="585" y2="1520"/>
<line x1="194" y1="1520" x2="194" y2="1530"/><line x1="356" y1="1520" x2="356" y2="1530"/><line x1="518" y1="1520" x2="518" y2="1530"/>
</g>
<g stroke="#000" stroke-width="3" fill="none">
<line x1="163" y1="1280" x2="163" y2="1235"/><line x1="144" y1="1235" x2="182" y2="1235"/>
<line x1="224" y1="1466" x2="224" y2="1448"/><line x1="205" y1="1448" x2="243" y2="1448"/>
<line x1="325" y1="1295" x2="325" y2="1253"/><line x1="306" y1="1253" x2="344" y2="1253"/>
<line x1="385" y1="1256" x2="385" y2="1220"/><line x1="366" y1="1220" x2="404" y2="1220"/>
<line x1="488" y1="1285" x2="488" y2="1228"/><line x1="469" y1="1228" x2="507" y2="1228"/>
<line x1="547" y1="1418" x2="547" y2="1390"/><line x1="528" y1="1390" x2="566" y2="1390"/>
<line x1="163" y1="1222" x2="217" y2="1222"/><line x1="332" y1="1207" x2="385" y2="1207"/><line x1="493" y1="1212" x2="543" y2="1212"/>
</g>
<rect x="143" y="1280" width="40" height="240" fill="#fafcff" stroke="#000" stroke-width="3.5"/>
<rect x="204" y="1466" width="41" height="54" fill="url(#redF)" stroke="#000" stroke-width="3.5"/>
<rect x="305" y="1295" width="40" height="225" fill="#fafcff" stroke="#000" stroke-width="3.5"/>
<rect x="365" y="1256" width="41" height="264" fill="url(#redF)" stroke="#000" stroke-width="3.5"/>
<rect x="468" y="1285" width="40" height="235" fill="#fafcff" stroke="#000" stroke-width="3.5"/>
<rect x="527" y="1418" width="41" height="102" fill="url(#redF)" stroke="#000" stroke-width="3.5"/>
<g font-size="20" font-weight="bold" text-anchor="middle"><text x="190" y="1222">****</text><text x="358" y="1204">ns</text><text x="518" y="1212">****</text></g>
<rect x="243" y="1143" width="34" height="24" fill="#fafcff" stroke="#000" stroke-width="3.5"/>
<text x="280" y="1164" font-size="24" font-weight="bold" font-style="italic">tsc2+/+</text>
<rect x="403" y="1143" width="34" height="24" fill="url(#redF)" stroke="#000" stroke-width="3.5"/>
<text x="440" y="1164" font-size="24" font-weight="bold" font-style="italic">tsc2-/-</text>
<g font-size="24" font-weight="bold" text-anchor="middle"><text x="195" y="1553">Ø</text><text x="357" y="1553">Rapamycin</text><text x="520" y="1553">GABA</text></g>
</svg>
</body></html>
